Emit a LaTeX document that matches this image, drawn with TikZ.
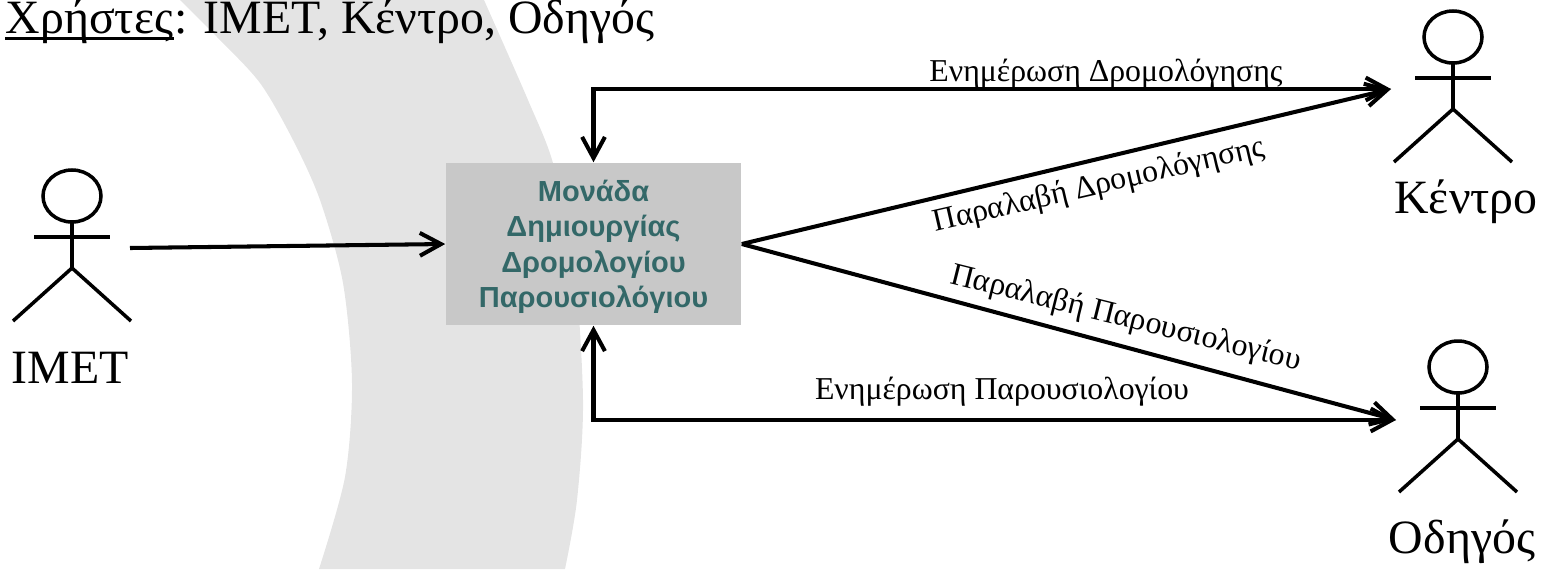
\documentclass[tikz,border=0pt]{standalone}
\usepackage{fontspec}
\setmainfont{Liberation Serif}
\setsansfont{Liberation Sans}
\usetikzlibrary{arrows.meta}
\definecolor{bandgray}{HTML}{E4E4E4}
\definecolor{boxgray}{HTML}{C8C8C8}
\definecolor{boxteal}{HTML}{336868}
\tikzset{
    actor/.pic = {
        \draw[line width=1pt] (0,0) ellipse [x radius=29, y radius=26];
        \draw[line width=1pt] (-38,41) -- (38,41);
        \draw[line width=1pt] (0,26) -- (0,72);
        \draw[line width=1pt] (-59,125) -- (0,72) -- (59,125);
    }
}
\begin{document}
\begin{tikzpicture}[x=0.01cm, y=-0.01cm,
    flow/.style = {line width=1.15pt, {Straight Barb[length=6pt,width=6.5pt]}-{Straight Barb[length=6pt,width=6.5pt]}},
    oneway/.style = {line width=1.15pt, -{Straight Barb[length=6pt,width=6.5pt]}},
    actorname/.style = {font=\fontsize{13.6}{16}\selectfont},
    titlepart/.style = {actorname, anchor=base west, inner sep=0pt},
    flowlabel/.style = {font=\fontsize{9.05}{11}\selectfont, inner sep=0pt},
    monadabox/.style = {fill=boxgray, minimum width=2.95cm, minimum height=1.62cm, inner sep=0pt, align=center,
        text=boxteal, font=\sffamily\bfseries\fontsize{8.25}{10}\selectfont}]
    \useasboundingbox (0,0) rectangle (1542,569);
    \fill[bandgray] plot[smooth] coordinates {(180,0) (217,37) (260,83) (293,140) (320,200) (343,283) (352,383) (345,477) (319,569)}
        -- plot[smooth] coordinates {(565,569) (577,500) (583,400) (574,260) (553,163) (528,100) (484,0)} -- cycle;

    \node[titlepart] (titleword) at (5,33) {Χρήστες};
    \node[titlepart] (titlerest) at (titleword.base east) {: ΙΜΕΤ, Κέντρο, Οδηγός};
    \draw[line width=1pt] ([yshift=-1.5pt]titleword.base west) -- ([yshift=-1.5pt]titleword.base east);

    \node[monadabox] (monada) at (593.5,244) {\rule{0pt}{7.7pt}Μονάδα\\Δημιουργίας\\Δρομολογίου\\Παρουσιολόγιου};

    \pic at (72,196) {actor};
    \pic at (1453,37) {actor};
    \pic at (1458,367) {actor};
    \node[actorname] (imet) at (70,368) {ΙΜΕΤ};
    \node[actorname] (kentro) at (1466,202) {Κέντρο};
    \node[actorname] (odigos) at (1462,542) {Οδηγός};

    \coordinate (imetout) at (130,248);
    \coordinate (kentroin) at (1391,89);
    \coordinate (odigosin) at (1396,420);

    \draw[oneway] (imetout) -- (monada.west);
    \draw[flow] (monada.north) |- (kentroin);
    \draw[flow] (monada.south) |- (odigosin);
    \draw[oneway] (monada.east) -- (kentroin);
    \draw[oneway] (monada.east) -- (odigosin);

    \node[flowlabel] (enimerosidrom) at (1106,74) {Ενημέρωση Δρομολόγησης};
    \node[flowlabel, rotate=13] (paralavidrom) at (1099,186) {Παραλαβή Δρομολόγησης};
    \node[flowlabel, rotate=-14] (paralavipar) at (1126,319) {Παραλαβή Παρουσιολογίου};
    \node[flowlabel] (enimerosipar) at (1002,392) {Ενημέρωση Παρουσιολογίου};
\end{tikzpicture}
\end{document}
